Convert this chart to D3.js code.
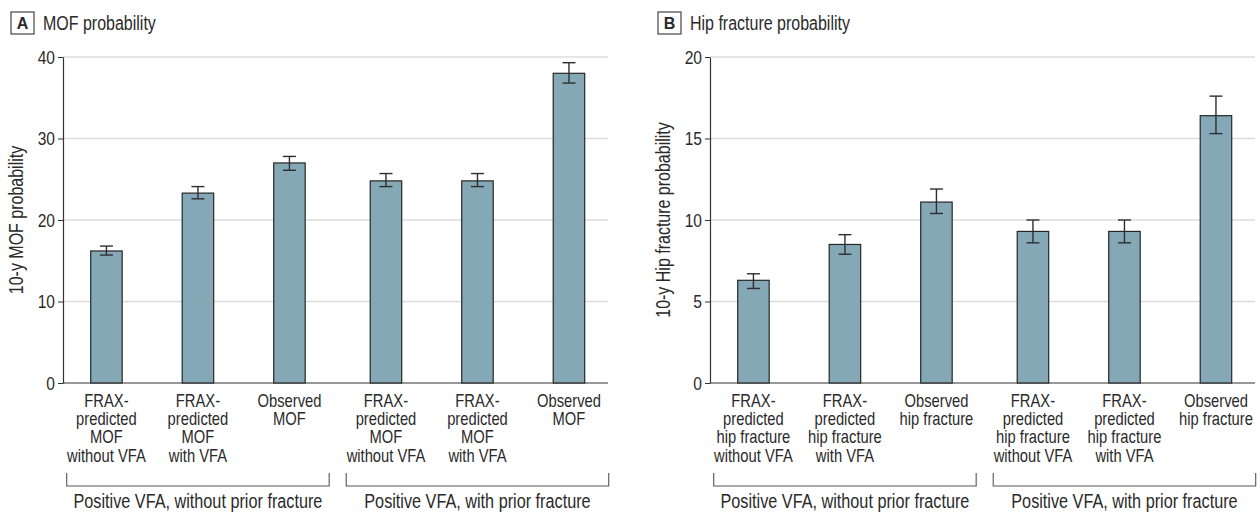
<!DOCTYPE html>
<html>
<head>
<meta charset="utf-8">
<script src="https://cdn.jsdelivr.net/npm/d3@7"></script>
<style>
  html, body { margin: 0; padding: 0; background: #fff; }
  svg { display: block; }
</style>
</head>
<body>
<svg id="chart" width="1260" height="515"></svg>
<script>
// ---------------- DATA ----------------
const groups = ["Positive VFA, without prior fracture", "Positive VFA, with prior fracture"];

const mofCategories = [
  "FRAX-|predicted|MOF|without VFA",
  "FRAX-|predicted|MOF|with VFA",
  "Observed|MOF",
  "FRAX-|predicted|MOF|without VFA",
  "FRAX-|predicted|MOF|with VFA",
  "Observed|MOF"
];
const mofValues = [16.2, 23.3, 27.0, 24.8, 24.8, 38.0];
const mofLower  = [15.7, 22.6, 26.1, 24.1, 24.1, 36.8];
const mofUpper  = [16.8, 24.1, 27.8, 25.7, 25.7, 39.3];
const mofTicks  = [0, 10, 20, 30, 40];

const hipCategories = [
  "FRAX-|predicted|hip fracture|without VFA",
  "FRAX-|predicted|hip fracture|with VFA",
  "Observed|hip fracture",
  "FRAX-|predicted|hip fracture|without VFA",
  "FRAX-|predicted|hip fracture|with VFA",
  "Observed|hip fracture"
];
const hipValues = [6.3, 8.5, 11.1, 9.3, 9.3, 16.4];
const hipLower  = [5.8, 7.9, 10.4, 8.6, 8.6, 15.3];
const hipUpper  = [6.7, 9.1, 11.9, 10.0, 10.0, 17.6];
const hipTicks  = [0, 5, 10, 15, 20];

// group index and slot of each bar
const barGroup = [0, 0, 0, 1, 1, 1];
const barSlot  = [0, 1, 2, 0, 1, 2];

// ---------------- LAYOUT ----------------
const FONT = "'Liberation Sans', Arial, sans-serif";
const NARROW = 0.82;   // horizontal condensing of the type
const TEXT = "#2a2a2a";
const svg = d3.select("#chart");

function addText(parent, x, y, str, size, anchor, pre) {
  return parent.append("text")
    .attr("transform", `translate(${x},${y})${pre ? " " + pre : ""} scale(${NARROW},1)`)
    .attr("text-anchor", anchor || "start")
    .attr("font-size", size).attr("fill", TEXT)
    .text(str);
}

const panels = [
  { letter: "A", title: "MOF probability", ylabel: "10-y MOF probability",
    cats: mofCategories, values: mofValues, lower: mofLower, upper: mofUpper, ticks: mofTicks, x0: 63 },
  { letter: "B", title: "Hip fracture probability", ylabel: "10-y Hip fracture probability",
    cats: hipCategories, values: hipValues, lower: hipLower, upper: hipUpper, ticks: hipTicks, x0: 710 }
];

const plotW = 545, yTop = 57, yBot = 383;

panels.forEach(p => {
  const g = svg.append("g").attr("font-family", FONT);
  const x0 = p.x0;

  const y = d3.scaleLinear().domain([0, d3.max(p.ticks)]).range([yBot, yTop]);

  const outer = d3.scaleBand().domain(groups).range([x0 + 3.7, x0 + 545.7]).paddingInner(0.061);
  const bw = outer.bandwidth();
  const innerStep = 91.5;
  const inner = d3.scaleBand().domain([0, 1, 2])
    .range([bw / 2 - 1.5 * innerStep, bw / 2 + 1.5 * innerStep])
    .paddingInner(0.656).paddingOuter(0.328);
  const barX = i => outer(groups[barGroup[i]]) + inner(barSlot[i]);
  const barW = inner.bandwidth();

  // gridlines
  g.append("g").selectAll("line").data(p.ticks.filter(t => t > 0)).join("line")
    .attr("x1", x0).attr("x2", x0 + plotW)
    .attr("y1", d => y(d)).attr("y2", d => y(d))
    .attr("stroke", "#dcdcdc").attr("stroke-width", 1.5);

  // y axis
  const ax = g.append("g").attr("transform", `translate(${x0},0)`)
    .call(d3.axisLeft(y).tickValues(p.ticks).tickSize(5).tickSizeOuter(0).tickPadding(3));
  ax.select(".domain").attr("stroke", "#333").attr("stroke-width", 1.2);
  ax.selectAll(".tick line").attr("stroke", "#333");
  ax.selectAll(".tick text")
    .attr("x", 0).attr("transform", `translate(-8,0) scale(${NARROW},1)`)
    .attr("font-family", FONT).attr("font-size", 19).attr("fill", TEXT);

  // baseline
  g.append("line").attr("x1", x0).attr("x2", x0 + plotW)
    .attr("y1", y(0)).attr("y2", y(0)).attr("stroke", "#333").attr("stroke-width", 1.2);

  // bars
  g.append("g").selectAll("rect").data(p.values).join("rect")
    .attr("x", (d, i) => barX(i)).attr("width", barW)
    .attr("y", d => y(d)).attr("height", d => y(0) - y(d))
    .attr("fill", "#84a8b6").attr("stroke", "#262626").attr("stroke-width", 1.2);

  // error bars
  const eb = g.append("g").attr("stroke", "#2e2e2e").attr("stroke-width", 1.4);
  p.values.forEach((v, i) => {
    const cx = barX(i) + barW / 2;
    eb.append("line").attr("x1", cx).attr("x2", cx).attr("y1", y(p.lower[i])).attr("y2", y(p.upper[i]));
    [p.lower[i], p.upper[i]].forEach(e => {
      eb.append("line").attr("x1", cx - 6.5).attr("x2", cx + 6.5).attr("y1", y(e)).attr("y2", y(e));
    });
  });

  // category labels
  p.cats.forEach((c, i) => {
    const cx = barX(i) + barW / 2;
    const t = addText(g, cx, 407, null, 18, "middle");
    c.split("|").forEach((line, k) => {
      t.append("tspan").attr("x", 0).attr("y", k * 18.2).text(line);
    });
  });

  // brackets and group labels
  groups.forEach(gr => {
    const a = outer(gr), b = outer(gr) + bw;
    g.append("path").attr("d", `M${a},473V486H${b}V473`)
      .attr("fill", "none").attr("stroke", "#555").attr("stroke-width", 1.1);
    addText(g, (a + b) / 2, 508, gr, 19.8, "middle");
  });

  // y label
  addText(g, x0 - 40, (yTop + yBot) / 2, p.ylabel, 19.5, "middle", "rotate(-90)");

  // panel letter box and title
  g.append("rect").attr("x", x0 - 52).attr("y", 12).attr("width", 23).attr("height", 22)
    .attr("fill", "#fff").attr("stroke", "#333").attr("stroke-width", 1.1);
  g.append("text").attr("x", x0 - 40.5).attr("y", 29).attr("text-anchor", "middle")
    .attr("font-size", 16).attr("font-weight", "bold").attr("fill", TEXT).text(p.letter);
  addText(g, x0 - 20, 29.5, p.title, 19.5, "start");
});
</script>
</body>
</html>
